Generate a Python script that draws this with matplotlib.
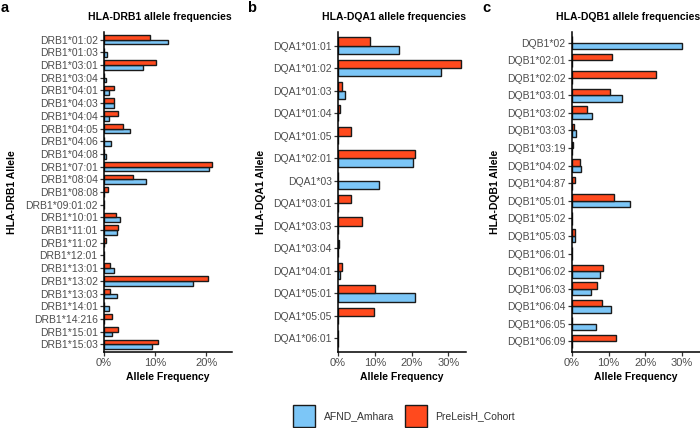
import matplotlib
matplotlib.use("Agg")
import matplotlib.pyplot as plt
import numpy as np
from matplotlib.patches import Rectangle

plt.rcParams['font.family'] = ['Liberation Sans', 'DejaVu Sans']

drb1_alleles = ["DRB1*01:02", "DRB1*01:03", "DRB1*03:01", "DRB1*03:04", "DRB1*04:01",
                "DRB1*04:03", "DRB1*04:04", "DRB1*04:05", "DRB1*04:06", "DRB1*04:08",
                "DRB1*07:01", "DRB1*08:04", "DRB1*08:08", "DRB1*09:01:02", "DRB1*10:01",
                "DRB1*11:01", "DRB1*11:02", "DRB1*12:01", "DRB1*13:01", "DRB1*13:02",
                "DRB1*13:03", "DRB1*14:01", "DRB1*14:216", "DRB1*15:01", "DRB1*15:03"]
drb1_afnd = [12.5, 0.5, 7.6, 0.4, 1.0, 2.0, 1.0, 5.1, 1.4, 0.4, 20.5, 8.2, 0.0, 0.0, 3.1,
             2.5, 0.0, 0.0, 2.0, 17.3, 2.5, 1.0, 0.0, 1.5, 9.3]
drb1_pre = [8.95, 0.0, 10.1, 0.0, 2.0, 2.0, 2.7, 3.7, 0.0, 0.0, 21.0, 5.7, 0.85, 0.0, 2.35,
            2.7, 0.4, 0.0, 1.2, 20.3, 1.2, 0.0, 1.6, 2.8, 10.6]

dqa1_alleles = ["DQA1*01:01", "DQA1*01:02", "DQA1*01:03", "DQA1*01:04", "DQA1*01:05",
                "DQA1*02:01", "DQA1*03", "DQA1*03:01", "DQA1*03:03", "DQA1*03:04",
                "DQA1*04:01", "DQA1*05:01", "DQA1*05:05", "DQA1*06:01"]
dqa1_afnd = [16.7, 28.1, 1.9, 0.0, 0.0, 20.4, 11.2, 0.0, 0.0, 0.0, 0.5, 21.0, 0.0, 0.0]
dqa1_pre = [8.8, 33.5, 1.1, 0.5, 3.6, 21.0, 0.0, 3.6, 6.4, 0.4, 1.2, 10.0, 9.7, 0.0]

dqb1_alleles = ["DQB1*02", "DQB1*02:01", "DQB1*02:02", "DQB1*03:01", "DQB1*03:02",
                "DQB1*03:03", "DQB1*03:19", "DQB1*04:02", "DQB1*04:87", "DQB1*05:01",
                "DQB1*05:02", "DQB1*05:03", "DQB1*06:01", "DQB1*06:02", "DQB1*06:03",
                "DQB1*06:04", "DQB1*06:05", "DQB1*06:09"]
dqb1_afnd = [30.0, 0.0, 0.0, 13.8, 5.5, 1.0, 0.0, 2.5, 0.0, 15.8, 0.0, 0.9, 0.0, 7.7, 5.1,
             10.6, 6.5, 0.0]
dqb1_pre = [0.0, 11.0, 23.0, 10.5, 4.0, 0.45, 0.4, 2.3, 0.8, 11.4, 0.0, 0.7, 0.0, 8.5, 6.7,
            8.1, 0.0, 12.1]

series_names = ["AFND_Amhara", "PreLeisH_Cohort"]
blue = "#7CC6F7"
red = "#FF4A1E"
tick_gray = "#4D4D4D"

W, H = 700, 428
fig = plt.figure(figsize=(W / 100, H / 100), dpi=100)


def px_axes(l, r, t, b):
    return fig.add_axes([l / W, 1 - b / H, (r - l) / W, (b - t) / H])


panels = [
    dict(alleles=drb1_alleles, afnd=drb1_afnd, pre=drb1_pre, box=(104, 232, 32, 352),
         xmax=25, xticks=[0, 10, 20], title="HLA-DRB1 allele frequencies",
         ylabel="HLA-DRB1 Allele", ylx=12.5, letter="a", lx=1),
    dict(alleles=dqa1_alleles, afnd=dqa1_afnd, pre=dqa1_pre, box=(338, 466, 32, 352),
         xmax=34.8, xticks=[0, 10, 20, 30], title="HLA-DQA1 allele frequencies",
         ylabel="HLA-DQA1 Allele", ylx=261.5, letter="b", lx=247),
    dict(alleles=dqb1_alleles, afnd=dqb1_afnd, pre=dqb1_pre, box=(572, 700, 32, 352),
         xmax=35, xticks=[0, 10, 20, 30], title="HLA-DQB1 allele frequencies",
         ylabel="HLA-DQB1 Allele", ylx=495.5, letter="c", lx=482),
]

bh = 0.37
for p in panels:
    l, r, t, b = p["box"]
    ax = px_axes(l, r, t, b)
    n = len(p["alleles"])
    y = np.arange(n)
    ax.barh(y + bh / 2, p["afnd"], height=bh, color=blue, edgecolor="#1a1a1a", linewidth=1.0)
    ax.barh(y - bh / 2, p["pre"], height=bh, color=red, edgecolor="#1a1a1a", linewidth=1.0)
    ax.set_yticks(y)
    ax.set_yticklabels(p["alleles"])
    ax.set_ylim(n - 1 + 0.6, -0.6)
    ax.set_xlim(0, p["xmax"])
    ax.set_xticks(p["xticks"])
    ax.set_xticklabels([f"{v}%" for v in p["xticks"]])
    for s in ["top", "right"]:
        ax.spines[s].set_visible(False)
    for s in ["left", "bottom"]:
        ax.spines[s].set_linewidth(1.1)
        ax.spines[s].set_color("black")
    ax.tick_params(axis="both", length=3, width=0.9, color="#333333",
                   labelsize=7.5, labelcolor=tick_gray, pad=1.5)
    ax.tick_params(axis="x", labelsize=8)
    ax.set_xlabel("Allele Frequency", fontsize=7.5, fontweight="bold", labelpad=3)
    fig.text(p["ylx"] / W, 1 - 192 / H, p["ylabel"], rotation=90, ha="center",
             va="center", fontsize=7.5, fontweight="bold")
    fig.text(r / W, 1 - 17 / H, p["title"], ha="right", va="center",
             fontsize=7.5, fontweight="bold")
    fig.text(p["lx"] / W, 1 - 8 / H, p["letter"], ha="left", va="center",
             fontsize=10.5, fontweight="bold")

# legend
leg_items = [(293, series_names[0], blue, 324), (405, series_names[1], red, 435)]
for x0, name, col, tx in leg_items:
    fig.patches.append(Rectangle((x0 / W, 1 - 427 / H), 22 / W, 22 / H,
                                 transform=fig.transFigure, facecolor=col,
                                 edgecolor="#1a1a1a", linewidth=1.0))
    fig.text(tx / W, 1 - 416 / H, name, ha="left", va="center", fontsize=7.5,
             color="#333333")

fig.savefig("out.png", dpi=100)
